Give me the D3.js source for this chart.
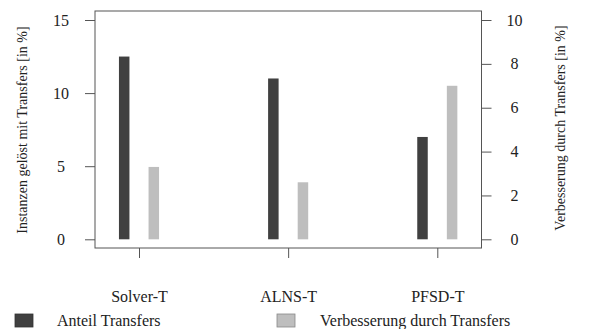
<!DOCTYPE html>
<html><head><meta charset="utf-8">
<script src="https://cdn.jsdelivr.net/npm/d3@7"></script>
<style>body{margin:0;background:#fff}svg{display:block}</style>
</head><body><svg id="c" width="591" height="329" font-family="Liberation Serif"></svg>
<script>
const categories = ["Solver-T","ALNS-T","PFSD-T"];
const anteil = [12.5, 11.0, 7.0];          // left axis (Instanzen gelöst mit Transfers)
const verbesserung = [3.3, 2.6, 7.0];      // right axis (Verbesserung durch Transfers)
const leftTicks = [0,5,10,15];
const rightTicks = [0,2,4,6,8,10];
const seriesNames = ["Anteil Transfers","Verbesserung durch Transfers"];
const colors = ["#404040","#bebebe"];

const svg = d3.select("#c");
const box = {l:95, r:481.5, t:11, b:248};
const yL = d3.scaleLinear().domain([0,15]).range([239.3,20]);
const yR = d3.scaleLinear().domain([0,10]).range([239.3,20]);
const x = d3.scalePoint().domain(categories).range([139,437.3]);
const barW = 10.5, off = 14.8;

svg.append("rect").attr("x",box.l).attr("y",box.t).attr("width",box.r-box.l).attr("height",box.b-box.t)
  .attr("fill","none").attr("stroke","#555").attr("stroke-width",1);

svg.selectAll("rect.a").data(anteil).join("rect").attr("class","a")
  .attr("x",(d,i)=>x(categories[i])-off-barW/2).attr("width",barW)
  .attr("y",d=>yL(d)).attr("height",d=>yL(0)-yL(d)).attr("fill",colors[0]);
svg.selectAll("rect.v").data(verbesserung).join("rect").attr("class","v")
  .attr("x",(d,i)=>x(categories[i])+off-barW/2).attr("width",barW)
  .attr("y",d=>yR(d)).attr("height",d=>yR(0)-yR(d)).attr("fill",colors[1]);

function styleAxis(g){ g.attr("font-family",null).attr("font-size",16);
  g.select(".domain").remove(); g.selectAll("line").attr("stroke","#555");
  g.selectAll("text").attr("fill","#222"); }

svg.append("g").attr("transform",`translate(${box.l},0)`)
  .call(d3.axisLeft(yL).tickValues(leftTicks).tickSize(10).tickPadding(24))
  .call(styleAxis).selectAll("text").attr("text-anchor","middle");
svg.append("g").attr("transform",`translate(${box.r},0)`)
  .call(d3.axisRight(yR).tickValues(rightTicks).tickSize(10).tickPadding(23))
  .call(styleAxis).selectAll("text").attr("text-anchor","middle");
svg.append("g").attr("transform",`translate(0,${box.b})`)
  .call(d3.axisBottom(x).tickSize(10).tickPadding(33))
  .call(styleAxis);

svg.append("text").attr("transform","translate(27,130) rotate(-90)").attr("text-anchor","middle")
  .attr("font-size",14).attr("fill","#222").text("Instanzen gelöst mit Transfers [in %]");
svg.append("text").attr("transform","translate(565,128) rotate(-90)").attr("text-anchor","middle")
  .attr("font-size",14).attr("fill","#222").text("Verbesserung durch Transfers [in %]");

const leg = [{x:15,tx:57},{x:277,tx:320}];
seriesNames.forEach((n,i)=>{
  svg.append("rect").attr("x",leg[i].x).attr("y",314).attr("width",18).attr("height",13)
    .attr("fill",colors[i]).attr("stroke",i? "#888":"#333").attr("stroke-width",0.8);
  svg.append("text").attr("x",leg[i].tx).attr("y",326).attr("font-size",16).attr("fill","#222").text(n);
});
</script></body></html>
